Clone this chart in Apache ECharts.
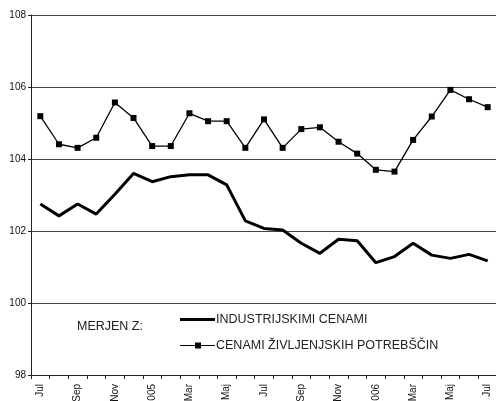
<!DOCTYPE html>
<html><head><meta charset="utf-8">
<script src="https://cdn.jsdelivr.net/npm/echarts@6/dist/echarts.min.js"></script>
<style>html,body{margin:0;padding:0;background:#fff;overflow:hidden}#c{width:496px;height:401px}</style>
</head><body><div id="c"></div>
<script>
const months = ['Jul','Avg','Sep','Okt','Nov','Dec','2005','Feb','Mar','Apr','Maj','Jun','Jul','Avg','Sep','Okt','Nov','Dec','2006','Feb','Mar','Apr','Maj','Jun','Jul'];
const industrijske = [102.75,102.42,102.75,102.47,103.02,103.60,103.37,103.51,103.56,103.56,103.28,102.28,102.07,102.03,101.66,101.38,101.77,101.73,101.12,101.29,101.66,101.33,101.24,101.35,101.17];
const zivljenjske = [105.19,104.41,104.31,104.59,105.57,105.14,104.36,104.36,105.27,105.05,105.05,104.31,105.10,104.31,104.83,104.88,104.48,104.15,103.70,103.65,104.53,105.18,105.92,105.66,105.44];
const nameA = 'INDUSTRIJSKIMI CENAMI';
const nameB = 'CENAMI ŽIVLJENJSKIH POTREBŠČIN';
const legendTitle = 'MERJEN Z:';

const chart = echarts.init(document.getElementById('c'), null, {renderer:'canvas'});
const font = 'Liberation Sans, Arial, sans-serif';
chart.setOption({
  animation:false,
  backgroundColor:'#fff',
  textStyle:{fontFamily:font},
  title:{text:legendTitle,left:77,top:320,padding:0,textStyle:{fontSize:12.5,fontWeight:'normal',color:'#222',fontFamily:font}},
  legend:[
    {data:[{name:nameA,icon:'rect'}],left:180,top:313,itemWidth:35,itemHeight:3,itemGap:0,padding:0,
     textStyle:{fontSize:12.5,color:'#222',padding:[0,0,0,-4],fontFamily:font}},
    {data:[{name:nameB,icon:'path://M0,2.4 H35 V3.6 H0 Z M15,0 H21 V6 H15 Z'}],left:180,top:339,itemWidth:35,itemHeight:6,itemGap:0,padding:0,
     textStyle:{fontSize:12.5,color:'#222',padding:[0,0,0,-4],fontFamily:font}}
  ],
  grid:{left:31,right:-1,top:15,bottom:26,containLabel:false,outerBoundsMode:'none'},
  xAxis:{type:'category',data:months,boundaryGap:true,
    axisLine:{lineStyle:{color:'#222',width:1}},
    axisTick:{show:true,interval:0,length:4,lineStyle:{color:'#222'}},
    axisLabel:{interval:1,rotate:90,fontSize:10,color:'#111',margin:9,fontFamily:font},
    splitLine:{show:false}},
  yAxis:{type:'value',min:98,max:108,interval:2,
    axisLine:{show:true,lineStyle:{color:'#222',width:1}},
    axisTick:{show:true,length:3,lineStyle:{color:'#222'}},
    axisLabel:{fontSize:10,color:'#111',margin:5,fontFamily:font},
    splitLine:{show:true,lineStyle:{color:'#444',width:1}}},
  series:[
    {name:nameA,type:'line',data:industrijske,symbol:'none',
     lineStyle:{color:'#000',width:3},itemStyle:{color:'#000'}},
    {name:nameB,type:'line',data:zivljenjske,symbol:'rect',symbolSize:6,
     lineStyle:{color:'#000',width:1.3},itemStyle:{color:'#000'}}
  ]
});
</script></body></html>
